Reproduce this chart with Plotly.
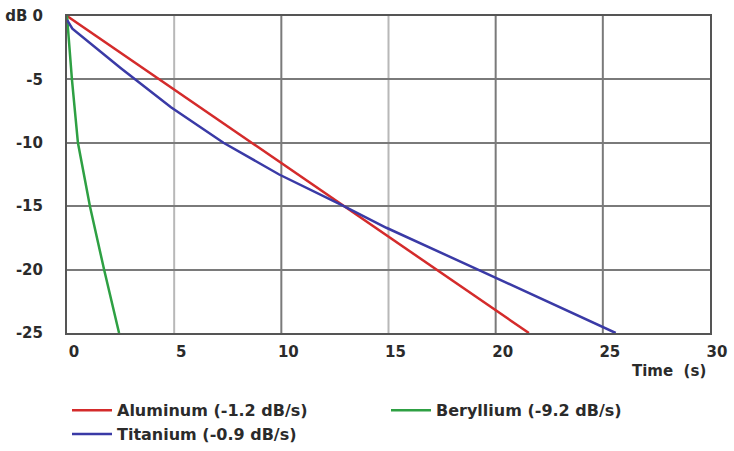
import plotly.graph_objects as go

# Data
al_t = [0, 21.55]
al_db = [0, -25]

ti_t = [0, 0.25, 2.5, 4.85, 7.3, 9.9, 12.8, 14.9, 19.3, 25.6]
ti_db = [-0.3, -1.0, -4.1, -7.2, -10.0, -12.5, -14.9, -16.7, -20.1, -25.0]

be_t = [0, 0.05, 0.23, 0.51, 1.07, 1.73, 2.43]
be_db = [0, -1.2, -5, -10, -15, -20, -25]

names = ["Aluminum (-1.2 dB/s)", "Beryllium (-9.2 dB/s)", "Titanium (-0.9 dB/s)"]
colors = ["#d42b2b", "#2ea043", "#3a3aa6"]

x_ticks = [0, 5, 10, 15, 20, 25, 30]
y_ticks = [0, -5, -10, -15, -20, -25]
y_labels = ["dB 0", "-5", "-10", "-15", "-20", "-25"]
dark_vgrid = [10, 20, 25]
light_vgrid = [5, 15]

FONT = "DejaVu Sans"
TXT = "#2b2b2b"
FSIZE = 15

def bold(s):
    return "<b>" + s + "</b>"

fig = go.Figure()
fig.add_trace(go.Scatter(x=al_t, y=al_db, mode="lines", name=bold(names[0]),
                         line=dict(color=colors[0], width=2.5)))
fig.add_trace(go.Scatter(x=be_t, y=be_db, mode="lines", name=bold(names[1]),
                         line=dict(color=colors[1], width=2.5)))
fig.add_trace(go.Scatter(x=ti_t, y=ti_db, mode="lines", name=bold(names[2]),
                         line=dict(color=colors[2], width=2.5)))

shapes = []
for v in light_vgrid:
    shapes.append(dict(type="line", xref="x", yref="paper", x0=v, x1=v, y0=0, y1=1,
                       line=dict(color="#b8b8b8", width=2), layer="below"))
for v in dark_vgrid:
    shapes.append(dict(type="line", xref="x", yref="paper", x0=v, x1=v, y0=0, y1=1,
                       line=dict(color="#7a7a7a", width=2), layer="below"))

fig.update_layout(
    width=734, height=451,
    margin=dict(l=67, r=24, t=16, b=118, autoexpand=False),
    paper_bgcolor="white", plot_bgcolor="white",
    font=dict(family=FONT, size=FSIZE, color=TXT),
    shapes=shapes,
    showlegend=True,
    legend=dict(orientation="h", x=0.0, xanchor="left", y=-0.19, yanchor="top",
                entrywidth=264, entrywidthmode="pixels",
                font=dict(family=FONT, size=16, color=TXT), itemwidth=40),
    annotations=[dict(text=bold("Time  (s)"), xref="paper", yref="paper", x=0.997, y=-0.085,
                      xanchor="right", yanchor="top", showarrow=False,
                      font=dict(family=FONT, size=FSIZE, color=TXT))],
)
fig.update_xaxes(range=[0, 30], tickvals=x_ticks, ticktext=[bold(str(v)) for v in x_ticks],
                 showgrid=False, zeroline=False, showline=True, mirror=True,
                 linecolor="#555555", linewidth=2, ticks="", ticklabelshift=7,
                 ticklabelstandoff=4, fixedrange=True)
fig.update_yaxes(range=[-25, 0], tickvals=y_ticks, ticktext=[bold(s) for s in y_labels],
                 showgrid=True, gridcolor="#7a7a7a", gridwidth=2, zeroline=False,
                 showline=True, mirror=True, linecolor="#555555", linewidth=2,
                 ticks="", ticklabelstandoff=19, fixedrange=True)

fig.write_html("out.html")
